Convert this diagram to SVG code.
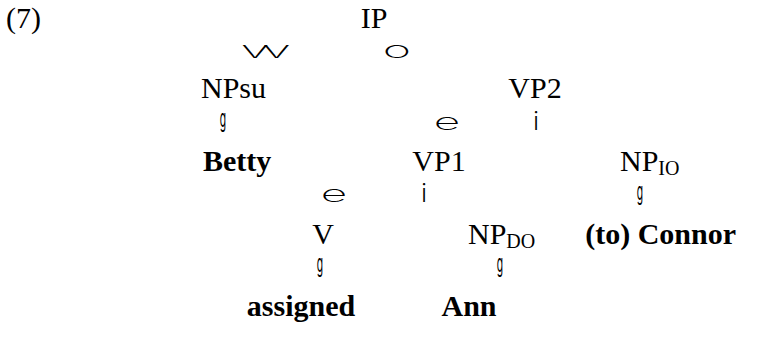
<svg xmlns="http://www.w3.org/2000/svg" width="765" height="345" viewBox="0 0 765 345">
<style>
.l{font-family:"Liberation Serif","Times New Roman",serif;font-size:30px;fill:#000}
.b{font-weight:bold}
.s{font-size:20px}
.m{text-anchor:middle}
.br{font-family:Inter,"Open Sans","Liberation Sans",sans-serif;font-weight:250;font-size:23px;fill:#000;text-anchor:middle}
.g{font-weight:400}
.i{font-weight:300;font-size:24px}
</style>
<rect width="765" height="345" fill="#fff"/>
<g id="label7"><text class="l" x="6" y="28">(7)</text></g>
<g id="IP"><text class="l m" x="374" y="28">IP</text></g>
<g id="NPsu"><text class="l" x="201" y="98">NPsu</text></g>
<g id="VP2"><text class="l m" x="535" y="98">VP2</text></g>
<g id="Betty"><text class="l b" x="203" y="171">Betty</text></g>
<g id="VP1"><text class="l m" x="439" y="171">VP1</text></g>
<g id="NPIO"><text class="l" x="620" y="171">NP<tspan class="s" dy="4">IO</tspan></text></g>
<g id="V"><text class="l m" x="323" y="244">V</text></g>
<g id="NPDO"><text class="l" x="468" y="244">NP<tspan class="s" dy="4">DO</tspan></text></g>
<g id="Connor"><text class="l b" x="736" y="244" text-anchor="end">(to) Connor</text></g>
<g id="assigned"><text class="l b m" x="301" y="316">assigned</text></g>
<g id="Ann"><text class="l b m" x="469" y="316">Ann</text></g>
<g id="connectors">
<text class="br" transform="translate(262,58) scale(2.3,1)" letter-spacing="-3.3">vv</text>
<text class="br" transform="translate(397,58) scale(2.1,1)">o</text>
<text class="br g" transform="translate(223,127) scale(0.45,1.05)">g</text>
<text class="br" transform="translate(447,130) scale(2,1)">e</text>
<text class="br i" x="536" y="130">i</text>
<text class="br" transform="translate(334,202) scale(2,1)">e</text>
<text class="br i" x="424" y="202">i</text>
<text class="br g" transform="translate(640,200) scale(0.45,1.05)">g</text>
<text class="br g" transform="translate(320,272) scale(0.45,1.05)">g</text>
<text class="br g" transform="translate(500,272) scale(0.45,1.05)">g</text>
</g>
</svg>
